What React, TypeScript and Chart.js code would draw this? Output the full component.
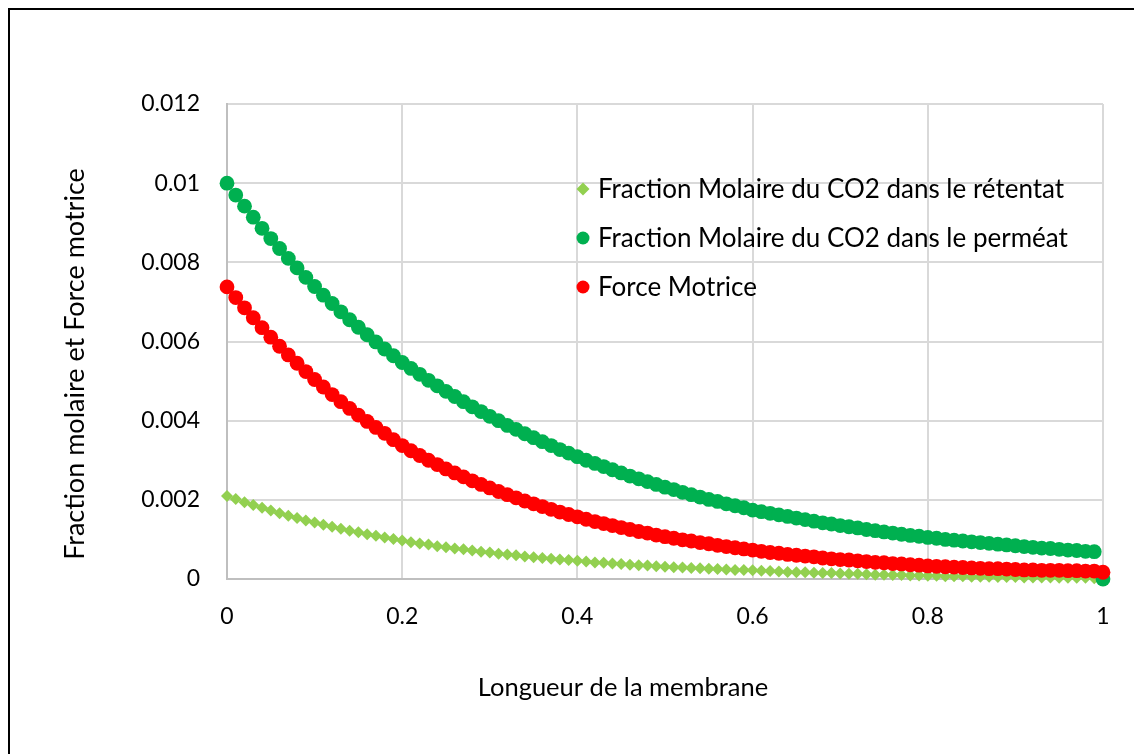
import { useEffect, useRef } from "react";
import { Chart, registerables } from "chart.js";

Chart.register(...registerables);

const FONT = "Lato, 'Open Sans', sans-serif";
const TICK_SIZE = 23;
const LEGEND_SIZE = 26;
const X_TITLE_SIZE = 25.5;
const Y_TITLE_SIZE = 27;

// Position along the membrane (reduced length)
const longueur = [
  0, 0.01, 0.02, 0.03, 0.04, 0.05, 0.06, 0.07, 0.08, 0.09,
  0.1, 0.11, 0.12, 0.13, 0.14, 0.15, 0.16, 0.17, 0.18, 0.19,
  0.2, 0.21, 0.22, 0.23, 0.24, 0.25, 0.26, 0.27, 0.28, 0.29,
  0.3, 0.31, 0.32, 0.33, 0.34, 0.35, 0.36, 0.37, 0.38, 0.39,
  0.4, 0.41, 0.42, 0.43, 0.44, 0.45, 0.46, 0.47, 0.48, 0.49,
  0.5, 0.51, 0.52, 0.53, 0.54, 0.55, 0.56, 0.57, 0.58, 0.59,
  0.6, 0.61, 0.62, 0.63, 0.64, 0.65, 0.66, 0.67, 0.68, 0.69,
  0.7, 0.71, 0.72, 0.73, 0.74, 0.75, 0.76, 0.77, 0.78, 0.79,
  0.8, 0.81, 0.82, 0.83, 0.84, 0.85, 0.86, 0.87, 0.88, 0.89,
  0.9, 0.91, 0.92, 0.93, 0.94, 0.95, 0.96, 0.97, 0.98, 0.99,
  1,
];

// CO2 mole fraction in the retentate
const retentat = [
  0.0021, 0.00202, 0.00194, 0.00187, 0.0018, 0.00173, 0.00166, 0.0016, 0.00154, 0.00148,
  0.00143, 0.00137, 0.00132, 0.00127, 0.00122, 0.00118, 0.00113, 0.00109, 0.00105, 0.00101,
  0.00097, 0.00093, 0.0009, 0.00087, 0.00083, 0.0008, 0.00077, 0.00075, 0.00072, 0.00069,
  0.00067, 0.00064, 0.00062, 0.0006, 0.00057, 0.00055, 0.00053, 0.00051, 0.00049, 0.00048,
  0.00046, 0.00044, 0.00042, 0.00041, 0.00039, 0.00038, 0.00036, 0.00035, 0.00034, 0.00032,
  0.00031, 0.0003, 0.00029, 0.00028, 0.00027, 0.00026, 0.00025, 0.00024, 0.00023, 0.00023,
  0.00022, 0.00021, 0.0002, 0.00019, 0.00018, 0.00017, 0.00017, 0.00016, 0.00015, 0.00015,
  0.00014, 0.00013, 0.00013, 0.00012, 0.00011, 0.00011, 0.0001, 0.0001, 0.00009, 0.00009,
  0.00008, 0.00008, 0.00007, 0.00007, 0.00007, 0.00006, 0.00006, 0.00006, 0.00005, 0.00005,
  0.00005, 0.00004, 0.00004, 0.00004, 0.00004, 0.00003, 0.00003, 0.00003, 0.00003, 0.00002,
  0.00002,
];

// CO2 mole fraction in the permeate
const permeat = [
  0.01, 0.0097, 0.00942, 0.00914, 0.00886, 0.0086, 0.00835, 0.0081, 0.00786, 0.00762,
  0.00739, 0.00717, 0.00696, 0.00675, 0.00655, 0.00636, 0.00617, 0.00599, 0.00581, 0.00564,
  0.00547, 0.00532, 0.00517, 0.00502, 0.00488, 0.00474, 0.00461, 0.00448, 0.00435, 0.00423,
  0.00411, 0.004, 0.00388, 0.00378, 0.00367, 0.00357, 0.00347, 0.00337, 0.00327, 0.00318,
  0.00309, 0.003, 0.00292, 0.00284, 0.00276, 0.00268, 0.0026, 0.00253, 0.00246, 0.00239,
  0.00232, 0.00226, 0.00219, 0.00213, 0.00207, 0.00201, 0.00196, 0.0019, 0.00185, 0.0018,
  0.00174, 0.0017, 0.00166, 0.00162, 0.00158, 0.00154, 0.0015, 0.00146, 0.00142, 0.00139,
  0.00135, 0.00132, 0.00129, 0.00125, 0.00122, 0.00119, 0.00116, 0.00113, 0.0011, 0.00108,
  0.00105, 0.00103, 0.001, 0.00098, 0.00096, 0.00094, 0.00092, 0.0009, 0.00088, 0.00086,
  0.00084, 0.00082, 0.0008, 0.00078, 0.00077, 0.00075, 0.00073, 0.00072, 0.0007, 0.00069,
  0,
];

// Driving force along the membrane
const forceMotrice = [
  0.00738, 0.00711, 0.00685, 0.0066, 0.00635, 0.00611, 0.00588, 0.00566, 0.00545, 0.00524,
  0.00504, 0.00485, 0.00466, 0.00448, 0.00431, 0.00414, 0.00398, 0.00383, 0.00368, 0.00352,
  0.00337, 0.00324, 0.00312, 0.003, 0.00289, 0.00278, 0.00268, 0.00258, 0.00248, 0.00239,
  0.0023, 0.00221, 0.00213, 0.00205, 0.00197, 0.0019, 0.00183, 0.00176, 0.00169, 0.00163,
  0.00157, 0.00151, 0.00145, 0.0014, 0.00135, 0.0013, 0.00125, 0.0012, 0.00116, 0.00111,
  0.00107, 0.00103, 0.00099, 0.00096, 0.00092, 0.00089, 0.00085, 0.00082, 0.00079, 0.00076,
  0.00073, 0.0007, 0.00067, 0.00065, 0.00062, 0.0006, 0.00058, 0.00056, 0.00053, 0.00051,
  0.00049, 0.00048, 0.00046, 0.00044, 0.00042, 0.00041, 0.00039, 0.00038, 0.00036, 0.00035,
  0.00033, 0.00032, 0.00031, 0.0003, 0.00029, 0.00028, 0.00027, 0.00026, 0.00026, 0.00025,
  0.00024, 0.00023, 0.00023, 0.00022, 0.00022, 0.00022, 0.00021, 0.00021, 0.0002, 0.0002,
  0.00017,
];

const xTicks = [0, 0.2, 0.4, 0.6, 0.8, 1];
const yTicks = [0, 0.002, 0.004, 0.006, 0.008, 0.01, 0.012];

const seriesLabels = [
  "Fraction Molaire du CO2 dans le rétentat",
  "Fraction Molaire du CO2 dans le perméat",
  "Force Motrice",
];
const seriesColors = ["#92D050", "#00B050", "#FF0000"];
const xTitle = "Longueur de la membrane";
const yTitle = "Fraction molaire et Force motrice";

const fmt = (v: number) => String(parseFloat(v.toFixed(3)));

const toPoints = (ys: number[]) => ys.map((y, i) => ({ x: longueur[i], y }));

// Axis titles and the in-plot legend, drawn on the canvas
const annotations = {
  id: "annotations",
  afterDraw(chart: any) {
    const { ctx, chartArea } = chart;
    ctx.save();
    ctx.fillStyle = "#000";
    ctx.textBaseline = "middle";

    // axis titles
    ctx.textAlign = "center";
    ctx.font = `${X_TITLE_SIZE}px ${FONT}`;
    ctx.fillText(xTitle, 613, 678);
    ctx.save();
    ctx.translate(65, 354);
    ctx.rotate(-Math.PI / 2);
    ctx.font = `${Y_TITLE_SIZE}px ${FONT}`;
    ctx.fillText(yTitle, 0, 0);
    ctx.restore();

    // legend
    ctx.font = `${LEGEND_SIZE}px ${FONT}`;
    const markerX = chartArea.left + 356;
    const textX = chartArea.left + 371;
    const rows = [179, 228, 277];
    seriesLabels.forEach((label, i) => {
      const y = rows[i];
      ctx.fillStyle = seriesColors[i];
      ctx.beginPath();
      if (i === 0) {
        const r = 6.5;
        ctx.moveTo(markerX, y - r);
        ctx.lineTo(markerX + r, y);
        ctx.lineTo(markerX, y + r);
        ctx.lineTo(markerX - r, y);
        ctx.closePath();
      } else {
        ctx.arc(markerX, y, 6.5, 0, Math.PI * 2);
      }
      ctx.fill();
      ctx.fillStyle = "#000";
      ctx.textAlign = "left";
      ctx.fillText(label, textX, y + 1);
    });
    ctx.restore();
  },
};

export default function App() {
  const canvasRef = useRef<HTMLCanvasElement | null>(null);

  useEffect(() => {
    const canvas = canvasRef.current;
    if (!canvas) return;
    const chart = new Chart(canvas, {
      type: "scatter",
      data: {
        datasets: [
          {
            label: seriesLabels[0],
            data: toPoints(retentat),
            pointStyle: "rectRot",
            pointRadius: 6,
            pointBorderWidth: 0,
            backgroundColor: seriesColors[0],
            borderColor: seriesColors[0],
            order: 3,
            clip: false,
          },
          {
            label: seriesLabels[1],
            data: toPoints(permeat),
            pointStyle: "circle",
            pointRadius: 7.4,
            pointBorderWidth: 0,
            backgroundColor: seriesColors[1],
            borderColor: seriesColors[1],
            order: 2,
            clip: false,
          },
          {
            label: seriesLabels[2],
            data: toPoints(forceMotrice),
            pointStyle: "circle",
            pointRadius: 7.4,
            pointBorderWidth: 0,
            backgroundColor: seriesColors[2],
            borderColor: seriesColors[2],
            order: 1,
            clip: false,
          },
        ],
      },
      options: {
        responsive: false,
        animation: false,
        events: [],
        layout: { padding: { top: 94, right: 31, left: 0, bottom: 0 } },
        plugins: {
          legend: { display: false },
          tooltip: { enabled: false },
        },
        scales: {
          x: {
            type: "linear",
            min: 0,
            max: 1,
            afterBuildTicks: (scale: any) => {
              scale.ticks = xTicks.map((v) => ({ value: v }));
            },
            afterFit: (scale: any) => {
              scale.height = 175;
            },
            ticks: {
              callback: (v: any) => fmt(Number(v)),
              color: "#000",
              font: { family: FONT, size: TICK_SIZE },
              padding: 24,
              maxRotation: 0,
            },
            grid: { color: "#d9d9d9", lineWidth: 2, drawTicks: false },
            border: { color: "#bfbfbf", width: 2 },
          },
          y: {
            type: "linear",
            min: 0,
            max: 0.012,
            afterBuildTicks: (scale: any) => {
              scale.ticks = yTicks.map((v) => ({ value: v }));
            },
            afterFit: (scale: any) => {
              scale.width = 217;
            },
            ticks: {
              callback: (v: any) => fmt(Number(v)),
              color: "#000",
              font: { family: FONT, size: TICK_SIZE },
              padding: 27,
            },
            grid: { color: "#d9d9d9", lineWidth: 2, drawTicks: false },
            border: { color: "#bfbfbf", width: 2 },
          },
        },
      },
      plugins: [annotations],
    });
    return () => chart.destroy();
  }, []);

  return (
    <div
      style={{
        position: "fixed",
        left: 8,
        top: 8,
        width: 1126,
        height: 746,
        boxSizing: "border-box",
        borderLeft: "2px solid #000",
        borderTop: "2px solid #000",
        background: "#fff",
        overflow: "hidden",
      }}
    >
      <canvas
        ref={canvasRef}
        width={1124}
        height={744}
        style={{ position: "absolute", left: 0, top: 0, width: 1124, height: 744 }}
      />
    </div>
  );
}
